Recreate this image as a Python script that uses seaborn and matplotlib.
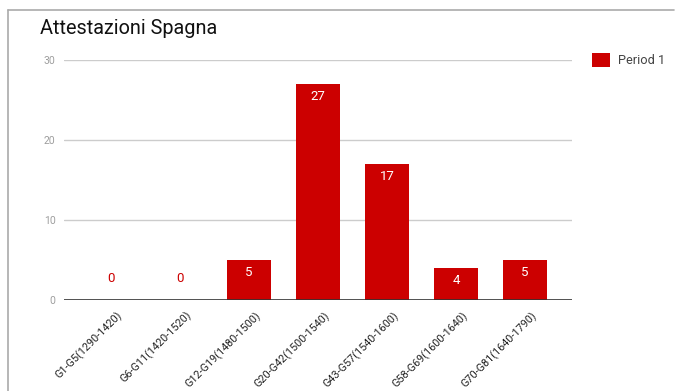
import matplotlib
matplotlib.use("Agg")
import matplotlib.pyplot as plt
import seaborn as sns
import pandas as pd
from matplotlib.lines import Line2D
from matplotlib.patches import Patch

categories = ["G1-G5(1290-1420)", "G6-G11(1420-1520)", "G12-G19(1480-1500)",
              "G20-G42(1500-1540)", "G43-G57(1540-1600)", "G58-G69(1600-1640)",
              "G70-G81(1640-1790)"]
values = [0, 0, 5, 27, 17, 4, 5]
series_name = "Period 1"
title = "Attestazioni Spagna"
yticks = [0, 10, 20, 30]

sns.set_theme(style="white")
plt.rcParams['font.family'] = ['Roboto', 'DejaVu Sans']

W, H = 675, 391
fig = plt.figure(figsize=(W / 100, H / 100), dpi=100)
ax = fig.add_axes([64 / W, 91 / H, (572 - 64) / W, 240 / H])

df = pd.DataFrame({"cat": categories, "val": values})
red = "#cc0000"
sns.barplot(data=df, x="cat", y="val", color=red, width=0.65, ax=ax,
            saturation=1, edgecolor="none")

ax.set_xlim(-0.68, 6.68)
ax.set_ylim(0, 30)
ax.set_yticks(yticks)
ax.set_yticklabels([str(t) for t in yticks], fontsize=7.5, color="#9e9e9e")
ax.tick_params(axis="y", length=0, pad=6)
ax.tick_params(axis="x", length=0, pad=2)
ax.set_xlabel("")
ax.set_ylabel("")
for s in ax.spines.values():
    s.set_visible(False)
ax.grid(False)
for t in yticks[1:]:
    ax.axhline(t, color="#cccccc", lw=1, zorder=0)
ax.axhline(0, color="#333333", lw=1.2, zorder=3)

ax.set_xticks(range(len(categories)))
ax.set_xticklabels(categories, rotation=45, ha="right", rotation_mode="anchor",
                   fontsize=7.8, color="#222222")
for lab in ax.get_xticklabels():
    lab.set_transform(lab.get_transform() + matplotlib.transforms.ScaledTranslation(6 / 100, -7 / 100, fig.dpi_scale_trans))

for i, v in enumerate(values):
    if v == 0:
        ax.text(i, 0, str(v), ha="center", va="bottom", color=red, fontsize=9.5,
                transform=ax.transData + matplotlib.transforms.ScaledTranslation(0, 15 / 100, fig.dpi_scale_trans))
    else:
        ax.text(i, v, str(v), ha="center", va="top", color="white", fontsize=9.5,
                transform=ax.transData + matplotlib.transforms.ScaledTranslation(0, -6 / 100, fig.dpi_scale_trans))

fig.text(40 / W, 1 - 28 / H, title, fontsize=14.3, color="#111111", va="center", ha="left")

fig.legend(handles=[Patch(facecolor=red, edgecolor="none", label=series_name)],
           loc="center left", bbox_to_anchor=(592 / W, 1 - 60 / H), frameon=False,
           fontsize=9.2, labelcolor="#444444", handlelength=1.4, handleheight=1.4,
           handletextpad=0.6, borderaxespad=0, borderpad=0)

fig.add_artist(Line2D([8 / W, 8 / W], [0, 1 - 9.5 / H], color="#aaaaaa", lw=1.2, transform=fig.transFigure))
fig.add_artist(Line2D([8 / W, 674 / W], [1 - 9.5 / H, 1 - 9.5 / H], color="#aaaaaa", lw=1.2, transform=fig.transFigure))

fig.savefig("out.png", dpi=100, facecolor="white")
